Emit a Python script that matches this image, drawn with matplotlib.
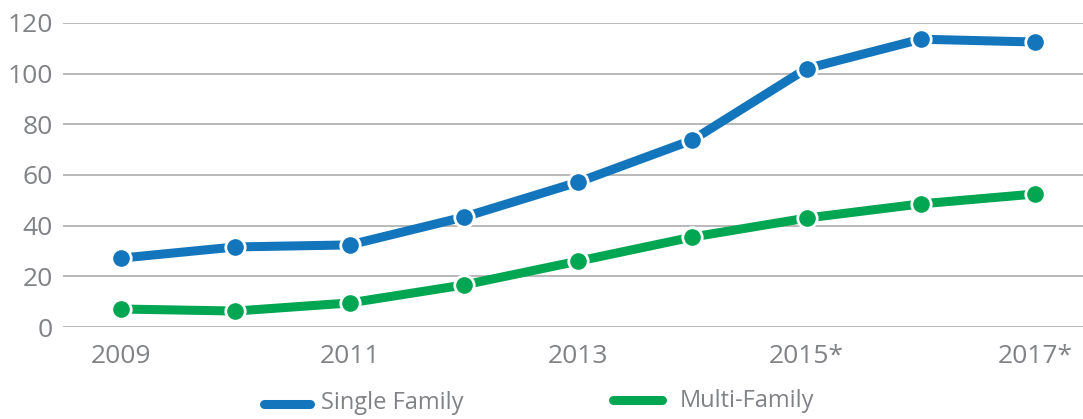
import matplotlib
matplotlib.use("Agg")
import matplotlib.pyplot as plt
from matplotlib.lines import Line2D

years = [2009, 2010, 2011, 2012, 2013, 2014, 2015, 2016, 2017]
single_family = [27.2, 31.6, 32.4, 43.4, 57.2, 73.8, 102.0, 113.6, 112.5]
multi_family = [7.1, 6.3, 9.5, 16.6, 26.0, 35.5, 43.0, 48.6, 52.5]
tick_years = [2009, 2011, 2013, 2015, 2017]
tick_labels = ["2009", "2011", "2013", "2015*", "2017*"]
y_ticks = [0, 20, 40, 60, 80, 100, 120]

BLUE = "#1375BC"
GREEN = "#00A651"
GRAY = "#808285"

plt.rcParams['font.family'] = ['Open Sans', 'DejaVu Sans']

W, H = 1083, 419
fig = plt.figure(figsize=(W / 100, H / 100), dpi=100)
ax = fig.add_axes([63 / W, (H - 327) / H, (W - 63) / W, 304 / H])

for s, c in [(single_family, BLUE), (multi_family, GREEN)]:
    ax.plot(years, s, color=c, lw=6.5, marker='o', ms=14, mfc=c,
            mec='white', mew=2.0, clip_on=False, zorder=3,
            solid_capstyle='butt')

ax.set_xlim(2008.49, 2017.42)
ax.set_ylim(0, 120)
ax.set_yticks(y_ticks)
ax.set_xticks(tick_years)
ax.set_xticklabels(tick_labels)
ax.grid(axis='y', color='#B3B3B3', lw=1.3)
ax.set_axisbelow(True)
for sp in ax.spines.values():
    sp.set_visible(False)
ax.tick_params(axis='both', length=0, labelsize=19, labelcolor=GRAY)
ax.tick_params(axis='y', pad=7.5)
ax.tick_params(axis='x', pad=12)

# legend
fig.add_artist(Line2D([264 / W, 310 / W], [1 - 404 / H, 1 - 404 / H],
                      color=BLUE, lw=6.5, solid_capstyle='round'))
fig.text(321 / W, 1 - 403 / H, "Single Family", fontsize=17, color=GRAY,
         va='center', ha='left')
fig.add_artist(Line2D([613 / W, 662 / W], [1 - 400 / H, 1 - 400 / H],
                      color=GREEN, lw=6.5, solid_capstyle='round'))
fig.text(680 / W, 1 - 401 / H, "Multi-Family", fontsize=17, color=GRAY,
         va='center', ha='left')

fig.savefig("out.png", dpi=100)
